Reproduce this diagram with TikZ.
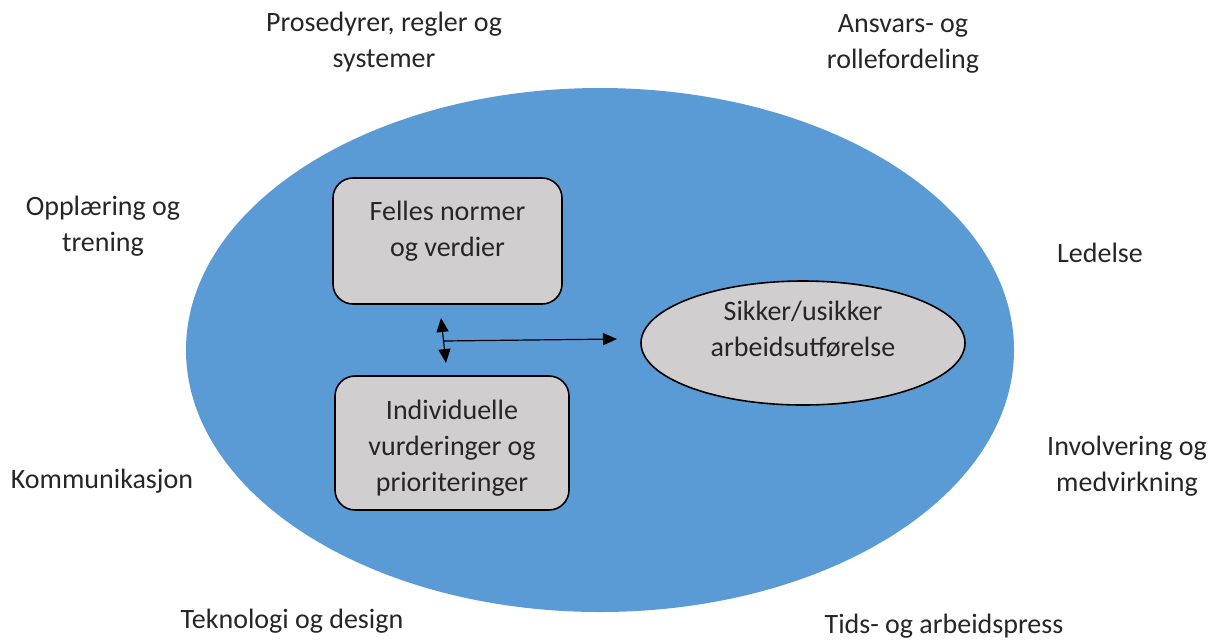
\documentclass[tikz,border=0pt]{standalone}
\usepackage{fontspec}
\setmainfont{Carlito}
\usepackage{tikz}
\usepackage{xcolor}
\usetikzlibrary{positioning,shapes,arrows.meta}

\definecolor{outerblue}{HTML}{5B9BD5}
\definecolor{boxgray}{HTML}{D0CECE}

\begin{document}
\begin{tikzpicture}[x=0.5pt,y=-0.5pt]
\tikzstyle{every node}+=[inner sep=0pt,font=\fontsize{14}{18}\selectfont,text=black!85]
\tikzstyle{factor}=[align=center]
\tikzstyle{graybox}=[draw=black,line width=0.8pt,fill=boxgray,rounded corners=10pt]
\tikzstyle{arr}=[line width=0.6pt,-{Triangle[length=7pt,width=6pt]}]
\useasboundingbox (0,0) rectangle (1215,639);
% outer ellipse
\fill [outerblue] (600,350) ellipse [x radius=414,y radius=262];
% factors around
\node [factor] (prosedyrer) at (384,42) {Prosedyrer, regler og\\systemer};
\node [factor] (ansvar) at (903,44) {Ansvars- og\\rollefordeling};
\node [factor] (opplaering) at (103,226) {Opplæring og\\trening};
\node [factor] (ledelse) at (1100,253) {Ledelse};
\node [factor] (kommunikasjon) at (102,481) {Kommunikasjon};
\node [factor] (involvering) at (1127,466) {Involvering og\\medvirkning};
\node [factor] (teknologi) at (292,621) {Teknologi og design};
\node [factor] (tidspress) at (944,626) {Tids- og arbeidspress};
% inner boxes
\node [graybox,minimum width=114.5pt,minimum height=63pt] (normer) at (447.5,241) {};
\node [align=center] (normertekst) at (447.5,231) {Felles normer\\og verdier};
\node [graybox,minimum width=117pt,minimum height=67pt] (vurdering) at (452,443) {};
\node [align=center] (vurderingtekst) at (452,448) {Individuelle\\vurderinger og\\prioriteringer};
\node [ellipse,draw=black,line width=0.8pt,fill=boxgray,minimum width=162pt,minimum height=62pt] (utforelse) at (803,343) {};
\node [align=center] (utforelsetekst) at (803,329) {Sikker/usikker\\arbeidsutførelse};
% arrows
\coordinate (vtop) at (441,318);
\coordinate (vbot) at (446,363);
\coordinate (vmid) at (443,341);
\coordinate (hend) at (617,339);
\draw [arr,{Triangle[length=7pt,width=6pt]}-{Triangle[length=7pt,width=6pt]}] (vtop) -- (vbot);
\draw [arr] (vmid) -- (hend);
\end{tikzpicture}
\end{document}
